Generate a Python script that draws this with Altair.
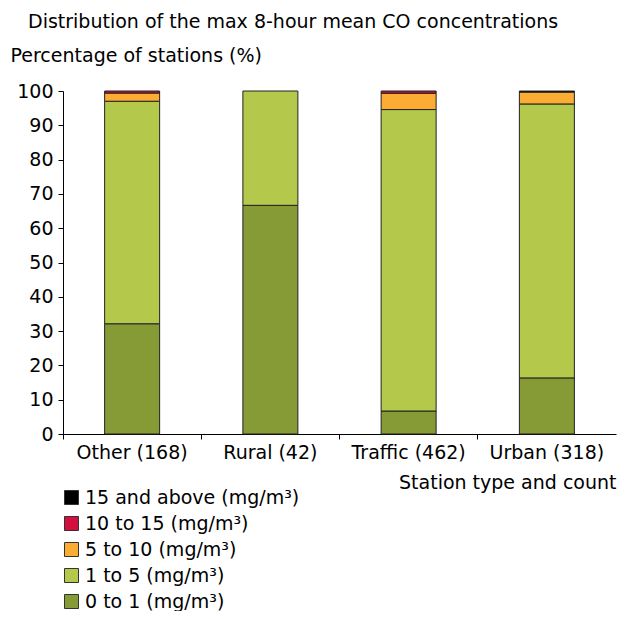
import altair as alt
import pandas as pd

stations = ["Other (168)", "Rural (42)", "Traffic (462)", "Urban (318)"]
classes = ["0 to 1 (mg/m³)", "1 to 5 (mg/m³)", "5 to 10 (mg/m³)",
           "10 to 15 (mg/m³)", "15 and above (mg/m³)"]
colors = ["#869b36", "#b4c94b", "#fbac33", "#d20f3e", "#000000"]

v_0_1 = [32.14, 66.67, 6.71, 16.35]
v_1_5 = [64.88, 33.33, 87.88, 79.87]
v_5_10 = [2.38, 0.0, 4.76, 3.46]
v_10_15 = [0.60, 0.0, 0.65, 0.0]
v_15 = [0.0, 0.0, 0.0, 0.31]

series = [v_0_1, v_1_5, v_5_10, v_10_15, v_15]
rows = []
for ci, (cls, vals) in enumerate(zip(classes, series)):
    for s, v in zip(stations, vals):
        if v > 0:
            rows.append({"station": s, "cls": cls, "order": ci, "value": v})
df = pd.DataFrame(rows)

FONT = "DejaVu Sans"
FS = 19

chart = alt.Chart(df).mark_bar(size=55, stroke="#222222", strokeWidth=1).encode(
    x=alt.X("station:N", sort=stations,
            scale=alt.Scale(paddingInner=0, paddingOuter=0),
            axis=alt.Axis(title="Station type and count", labelAngle=0,
                          bandPosition=0, tickSize=5, labelPadding=4,
                          titleAnchor="end", titleAlign="right",
                          titleX=553, titleY=54, titleBaseline="alphabetic")),
    y=alt.Y("value:Q", stack="zero",
            scale=alt.Scale(domain=[0, 100], nice=False),
            axis=alt.Axis(title="Percentage of stations (%)", values=list(range(0, 101, 10)),
                          grid=False, tickSize=5, labelPadding=5,
                          titleAngle=0, titleAlign="left", titleBaseline="alphabetic",
                          titleX=-53, titleY=-30)),
    color=alt.Color("cls:N", sort=classes,
                    scale=alt.Scale(domain=classes, range=colors),
                    legend=alt.Legend(title=None, orient="none", legendX=-1, legendY=397,
                                      direction="vertical", symbolType="square",
                                      symbolSize=196, symbolStrokeColor="#333333",
                                      symbolStrokeWidth=1, labelFontSize=FS,
                                      labelFont=FONT, rowPadding=6, labelOffset=4,
                                      labelLimit=400, labelColor="#000000",
                                      values=classes[::-1])),
    order=alt.Order("order:Q", sort="ascending"),
).properties(
    width=553, height=343,
    autosize=alt.AutoSizeParams(type="none"),
    padding={"left": 55, "top": 83, "right": 1, "bottom": 177},
    title=alt.TitleParams("Distribution of the max 8-hour mean CO concentrations",
                          anchor="start", frame="group", dx=-35, offset=14,
                          fontSize=FS, font=FONT, fontWeight="normal", color="#000000"),
).configure_axis(
    labelFont=FONT, titleFont=FONT, labelFontSize=FS, titleFontSize=FS,
    titleFontWeight="normal", labelColor="#000000", titleColor="#000000",
    domainColor="#000000", tickColor="#000000",
).configure_view(stroke=None)

chart.save("out.html", embed_options={"renderer": "svg", "actions": False})
